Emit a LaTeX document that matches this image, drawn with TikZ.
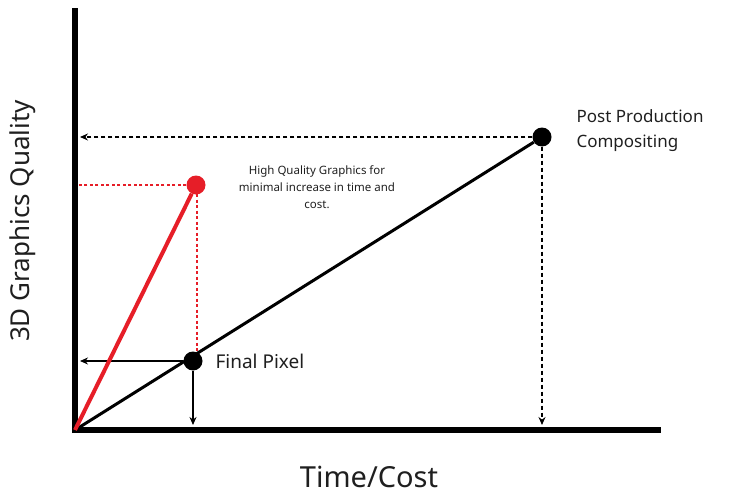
\documentclass[tikz,border=0pt]{standalone}
\usepackage{fontspec}
\setmainfont{Noto Sans}
\usetikzlibrary{arrows.meta}
\definecolor{hired}{RGB}{230,30,40}
\begin{document}
\begin{tikzpicture}[x=1pt,y=-1pt,
  axis/.style={line width=6pt},
  dot/.style={circle,fill=#1,minimum size=19pt,inner sep=0pt},
  guide/.style={line width=1.2pt,dash pattern=on 4pt off 3pt,-{Stealth[length=8pt,width=7pt]}},
  redguide/.style={hired,line width=1.2pt,dash pattern=on 3pt off 2.5pt},
  solidarrow/.style={line width=1.4pt,-{Stealth[length=8pt,width=7pt]}},
  lbl/.style={anchor=west,text=black!88}]
\useasboundingbox (0,0) rectangle (734,495);
% axes
\coordinate (o) at (75,430);
\coordinate (ytop) at (75,8);
\coordinate (xend) at (661,430);
\draw[axis] (75,433) -- (ytop);
\draw[axis] (72,430) -- (xend);
% points
\node[dot=black] (pp) at (542,137) {};
\node[dot=black] (fp) at (193,361) {};
\node[dot=hired] (hq) at (196,185) {};
% axis projection targets
\coordinate (ppy) at (80,137);
\coordinate (ppx) at (542,425);
\coordinate (hqy) at (78,185);
\coordinate (hqt) at (197,194);
\coordinate (hqb) at (197,352);
\coordinate (fpy) at (80,361);
\coordinate (fpx) at (193,425);
% dashed guides
\draw[guide] (pp) -- (ppy);
\draw[guide] (pp) -- (ppx);
\draw[redguide] (hq) -- (hqy);
\draw[redguide] (hqt) -- (hqb);
% solid guides
\draw[solidarrow] (fp) -- (fpy);
\draw[solidarrow] (fp) -- (fpx);
% trend lines
\draw[line width=3pt] (o) -- (pp);
\draw[line width=4pt,hired] (o) -- (hq);
% labels
\node[lbl,align=left,font=\fontsize{17}{25}\selectfont] (pplbl) at (573,131) {Post Production\\Compositing};
\node[lbl,font=\fontsize{19}{23}\selectfont] (fplbl) at (212,361) {Final Pixel};
\node[font=\fontsize{11.5}{17}\selectfont,align=center,text=black!88] (hqlbl) at (317,187)
  {High Quality Graphics for\\minimal increase in time and\\cost.};
\node[font=\fontsize{26}{30}\selectfont,rotate=90,text=black!88] (ylbl) at (23,221) {3D Graphics Quality};
\node[font=\fontsize{29}{33}\selectfont,text=black!88,inner sep=0pt] (xlbl) at (369,477) {Time/Cost};
\end{tikzpicture}
\end{document}
